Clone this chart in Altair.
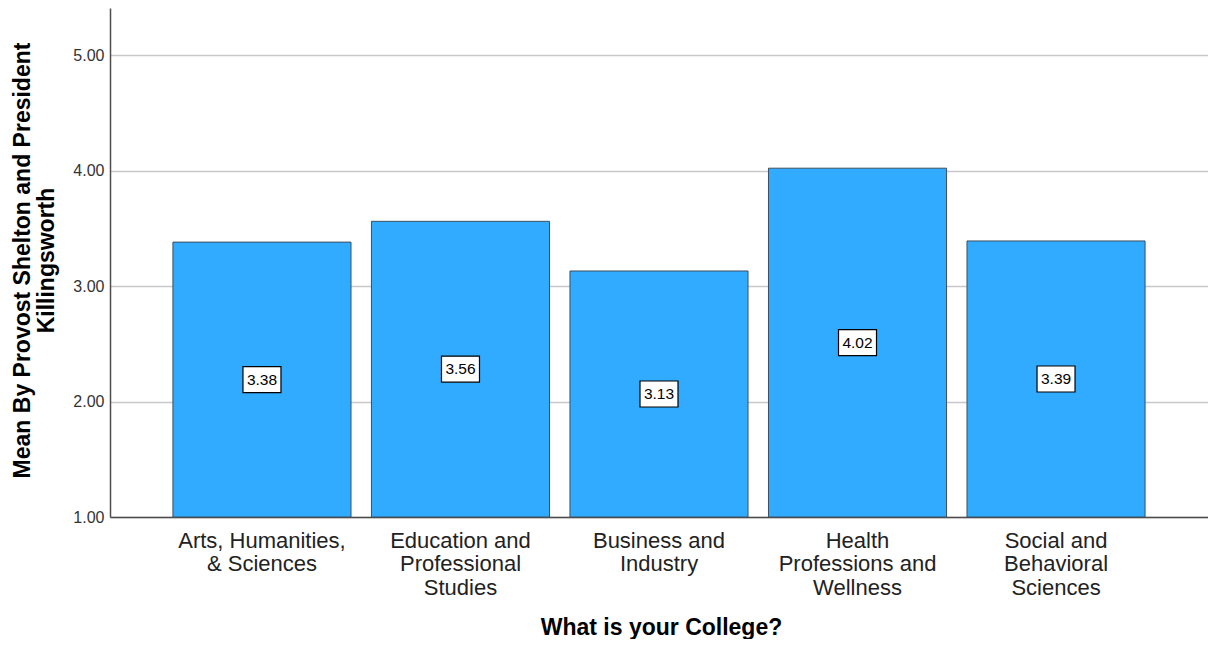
import altair as alt
import pandas as pd

colleges = [
    "Arts, Humanities,|& Sciences",
    "Education and|Professional|Studies",
    "Business and|Industry",
    "Health|Professions and|Wellness",
    "Social and|Behavioral|Sciences",
]
means = [3.38, 3.56, 3.13, 4.02, 3.39]
value_labels = ["3.38", "3.56", "3.13", "4.02", "3.39"]
y_ticks = [1, 2, 3, 4, 5]

df = pd.DataFrame({"college": colleges, "mean": means, "label": value_labels})

FONT = "Liberation Sans"
W, H = 1098, 509

x_axis = alt.Axis(
    title="What is your College?",
    labelExpr="split(datum.label, '|')",
    labelAngle=0,
    labelFont=FONT,
    labelFontSize=22,
    labelColor="#222222",
    labelLineHeight=23.8,
    labelBaseline="top",
    labelPadding=13,
    labelLimit=400,
    labelOverlap=False,
    ticks=False,
    tickSize=0,
    domainColor="#4d4d4d",
    domainWidth=1.5,
    grid=False,
    titleFont=FONT,
    titleFontSize=23,
    titleFontWeight="bold",
    titleColor="#000000",
    titleX=551,
    titleY=117,
    titleAlign="center",
    titleBaseline="alphabetic",
)

y_axis = alt.Axis(
    values=y_ticks,
    format=".2f",
    title=["Mean By Provost Shelton and President", "Killingsworth"],
    labelFont=FONT,
    labelFontSize=16,
    labelColor="#333333",
    labelPadding=6,
    ticks=False,
    tickSize=0,
    domainColor="#4d4d4d",
    domainWidth=1.5,
    grid=True,
    gridColor="#c8c8c8",
    gridWidth=1.5,
    titleFont=FONT,
    titleFontSize=23,
    titleFontWeight="bold",
    titleColor="#000000",
    titleAngle=270,
    titleAlign="center",
    titleBaseline="top",
    titleLineHeight=24.5,
    titleX=-99,
    titleY=252,
)

x_scale = alt.Scale(paddingInner=0.103, paddingOuter=0.317)
y_scale = alt.Scale(domain=[1, 5.407], nice=False, zero=False)


def xenc():
    return alt.X("college:N", sort=None, scale=x_scale, axis=x_axis)


def yenc(field):
    return alt.Y(field, scale=y_scale, axis=y_axis)


base = alt.Chart(df)

bars = base.mark_bar(color="#31abff", stroke="#3d4f60", strokeWidth=1).encode(
    x=xenc(),
    y=yenc("mean:Q"),
    y2=alt.datum(1),
)

boxes = base.transform_calculate(mid="(datum.mean + 1) / 2").mark_point(
    shape="M-1,-0.684L1,-0.684L1,0.684L-1,0.684Z",
    size=1444,
    filled=True,
    fill="white",
    stroke="#000000",
    strokeWidth=1.2,
    opacity=1,
).encode(x=xenc(), y=yenc("mid:Q"))

texts = base.transform_calculate(mid="(datum.mean + 1) / 2").mark_text(
    font=FONT, fontSize=15.5, color="#000000", baseline="middle", align="center"
).encode(x=xenc(), y=yenc("mid:Q"), text="label:N")

chart = (
    alt.layer(bars, boxes, texts)
    .properties(
        width=W,
        height=H,
        autosize=alt.AutoSizeParams(type="none"),
        padding={"left": 102, "top": 0, "right": 0, "bottom": 122},
        background="white",
    )
    .configure_view(stroke=None)
)

chart.save("out.html", embed_options={"renderer": "svg", "actions": False})
